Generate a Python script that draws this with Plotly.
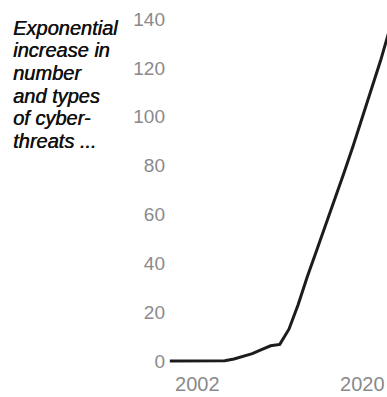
import plotly.graph_objects as go

# Threat count index by year
years = [1999, 2000, 2001, 2002, 2003, 2004, 2005, 2006, 2007, 2008, 2009, 2010,
         2011, 2012, 2013, 2014, 2015, 2016, 2017, 2018, 2019, 2020, 2021, 2022, 2023]
threats = [0, 0, 0, 0, 0, 0, 0.1, 0.8, 1.8, 3.0, 4.6, 6.2,
           6.8, 13, 23, 34.5, 45, 55.5, 66, 77, 88, 99.5, 111, 123, 136]

y_ticks = [0, 20, 40, 60, 80, 100, 120, 140]
x_ticks = [2002, 2020]

caption_lines = ["Exponential", "increase in", "number", "and types", "of cyber-", "threats ..."]

W, H = 387, 397
L, R, T, B = 168, 0, 0, 27
plot_h = H - T - B
plot_w = W - L - R

fig = go.Figure()
fig.add_trace(go.Scatter(
    x=years, y=threats, mode="lines",
    line=dict(color="#1c1c1c", width=3),
    hoverinfo="skip", showlegend=False,
))

# Caption to the left of the axis, one annotation per line
annotations = []
first_baseline = 34.0
line_gap = 22.7
for i, txt in enumerate(caption_lines):
    mid_px = first_baseline + i * line_gap - 6.5
    annotations.append(dict(
        text=f"<i>{txt}</i>", xref="paper", yref="paper",
        x=(11 - L) / plot_w, y=1 - (mid_px - T) / plot_h,
        xanchor="left", yanchor="middle", showarrow=False,
        font=dict(family="Liberation Sans", size=20, color="#111111",
                  shadow="0.5px 0px 0px #111111"),
    ))

fig.update_layout(
    width=W, height=H,
    margin=dict(l=L, r=R, t=T, b=B, pad=0, autoexpand=False),
    paper_bgcolor="white", plot_bgcolor="white",
    showlegend=False,
    annotations=annotations,
    xaxis=dict(
        range=[1998.8, 2022.7], tickmode="array", tickvals=x_ticks,
        ticktext=[str(v) for v in x_ticks], automargin=False,
        showgrid=False, zeroline=False, showline=False, ticks="",
        tickfont=dict(family="Liberation Sans", size=20, color="#8a8a8a"),
        ticklabelstandoff=0,
    ),
    yaxis=dict(
        range=[-3.7, 147.8], tickmode="array", tickvals=y_ticks,
        ticktext=[str(v) for v in y_ticks], automargin=False,
        showgrid=False, zeroline=False, showline=False, ticks="",
        tickfont=dict(family="Liberation Sans", size=19, color="#8a8a8a"),
        ticklabelstandoff=2,
    ),
)

fig.write_html("out.html")
